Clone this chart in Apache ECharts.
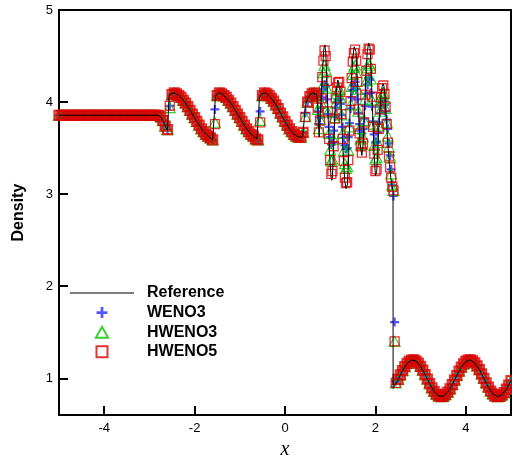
<!DOCTYPE html>
<html>
<head>
<meta charset="utf-8">
<script src="https://cdn.jsdelivr.net/npm/echarts@6/dist/echarts.min.js"></script>
<style>
  html, body { margin: 0; padding: 0; background: #fff; }
  #chart { width: 512px; height: 465px; }
</style>
</head>
<body>
<div id="chart"></div>
<script>
// Shu-Osher shock / entropy-wave interaction, density at t = 1.8

const xTicks = [-4, -2, 0, 2, 4];
const yTicks = [1, 2, 3, 4, 5];

// reference solution (fine mesh)
const refX = [-5.00, -2.80, -2.75, -2.70, -2.65, -2.60, -2.58, -2.565, -2.53, -2.45, -2.40, -2.30, -2.20, -2.10, -2.00, -1.90, -1.80, -1.70, -1.60, -1.56,
  -1.54, -1.50, -1.45, -1.40, -1.30, -1.20, -1.10, -1.00, -0.90, -0.80, -0.70, -0.62, -0.58, -0.565, -0.52, -0.45, -0.40, -0.30, -0.20, -0.10,
  0.00, 0.10, 0.20, 0.30, 0.38, 0.40, 0.43, 0.46, 0.50, 0.55, 0.62, 0.70,
  0.72, 0.74, 0.755, 0.77, 0.80, 0.83, 0.86, 0.88, 0.90, 0.93, 0.96, 0.99, 1.02, 1.035, 1.05, 1.08, 1.11, 1.14, 1.17, 1.20, 1.23, 1.26, 1.29, 1.32,
  1.35, 1.365, 1.38, 1.41, 1.44, 1.47, 1.50, 1.53, 1.55, 1.57, 1.60, 1.63, 1.66, 1.70, 1.73, 1.76, 1.79, 1.82, 1.85, 1.865, 1.88, 1.91, 1.94, 1.97,
  2.00, 2.01, 2.03, 2.06, 2.09, 2.12, 2.15, 2.17, 2.19, 2.22, 2.25, 2.28, 2.31, 2.34, 2.37, 2.39, 2.392,
  2.40, 2.50, 2.60, 2.70, 2.80, 2.90, 3.00, 3.10, 3.20, 3.30, 3.40, 3.50, 3.60, 3.70, 3.80, 3.90, 4.00, 4.10, 4.20, 4.30, 4.40, 4.50, 4.60, 4.70, 4.80, 4.90, 5.00];
const refRho = [3.857, 3.857, 3.84, 3.80, 3.74, 3.69, 3.68, 4.06, 4.09, 4.10, 4.09, 4.05, 3.99, 3.91, 3.83, 3.75, 3.68, 3.63, 3.59, 3.58,
  4.06, 4.09, 4.10, 4.09, 4.05, 3.99, 3.91, 3.83, 3.75, 3.68, 3.63, 3.60, 3.59, 4.05, 4.09, 4.10, 4.09, 4.04, 3.97, 3.88,
  3.79, 3.71, 3.65, 3.62, 3.62, 3.66, 3.85, 3.98, 4.04, 4.08, 4.10, 4.08,
  4.02, 3.75, 3.62, 3.75, 4.05, 4.35, 4.58, 4.62, 4.55, 4.20, 3.75, 3.40, 3.18, 3.15, 3.20, 3.55, 3.95, 4.15, 4.24, 4.25, 4.10, 3.75, 3.40, 3.15,
  3.06, 3.05, 3.10, 3.45, 3.90, 4.25, 4.48, 4.60, 4.62, 4.55, 4.25, 3.85, 3.55, 3.42, 3.55, 3.90, 4.30, 4.55, 4.64, 4.65, 4.60, 4.30, 3.85, 3.45,
  3.20, 3.18, 3.25, 3.55, 3.85, 4.05, 4.17, 4.20, 4.17, 4.00, 3.75, 3.50, 3.32, 3.18, 3.08, 3.03, 0.89,
  0.893, 0.987, 1.084, 1.161, 1.198, 1.187, 1.130, 1.039, 0.942, 0.858, 0.808, 0.804, 0.850, 0.930, 1.030, 1.121, 1.183, 1.199, 1.167, 1.094, 0.998, 0.903, 0.831, 0.801, 0.819, 0.882, 0.974];

// cells of the uniform left state
const leftX = [-5.00, -4.95, -4.90, -4.85, -4.80, -4.75, -4.70, -4.65, -4.60, -4.55,
  -4.50, -4.45, -4.40, -4.35, -4.30, -4.25, -4.20, -4.15, -4.10, -4.05,
  -4.00, -3.95, -3.90, -3.85, -3.80, -3.75, -3.70, -3.65, -3.60, -3.55,
  -3.50, -3.45, -3.40, -3.35, -3.30, -3.25, -3.20, -3.15, -3.10, -3.05,
  -3.00, -2.95, -2.90, -2.85, -2.80];
const leftRho = [3.857, 3.857, 3.857, 3.857, 3.857, 3.857, 3.857, 3.857, 3.857, 3.857,
  3.857, 3.857, 3.857, 3.857, 3.857, 3.857, 3.857, 3.857, 3.857, 3.857,
  3.857, 3.857, 3.857, 3.857, 3.857, 3.857, 3.857, 3.857, 3.857, 3.857,
  3.857, 3.857, 3.857, 3.857, 3.857, 3.857, 3.857, 3.857, 3.857, 3.857,
  3.857, 3.857, 3.857, 3.857, 3.857];

// smooth post-shock waves, shared by the three schemes
const waveX = [-2.75, -2.70, -2.65, -2.60,
  -2.50, -2.45, -2.40, -2.35, -2.30, -2.25, -2.20, -2.15, -2.10, -2.05, -2.00, -1.95, -1.90, -1.85, -1.80, -1.75, -1.70, -1.65, -1.60,
  -1.50, -1.45, -1.40, -1.35, -1.30, -1.25, -1.20, -1.15, -1.10, -1.05, -1.00, -0.95, -0.90, -0.85, -0.80, -0.75, -0.70, -0.65, -0.60,
  -0.50, -0.45, -0.40, -0.35, -0.30, -0.25, -0.20, -0.15, -0.10, -0.05, 0.00, 0.05, 0.10, 0.15, 0.20, 0.25, 0.30, 0.35, 0.40,
  0.50, 0.55, 0.60, 0.65, 0.70];
const waveRho = [3.84, 3.80, 3.74, 3.70,
  4.08, 4.10, 4.09, 4.07, 4.05, 4.02, 3.99, 3.95, 3.91, 3.87, 3.83, 3.79, 3.75, 3.71, 3.68, 3.65, 3.63, 3.61, 3.59,
  4.07, 4.10, 4.09, 4.07, 4.05, 4.02, 3.99, 3.95, 3.91, 3.87, 3.83, 3.79, 3.75, 3.71, 3.68, 3.65, 3.63, 3.60, 3.59,
  4.07, 4.10, 4.09, 4.07, 4.04, 4.01, 3.97, 3.93, 3.88, 3.84, 3.79, 3.75, 3.71, 3.68, 3.65, 3.63, 3.62, 3.62, 3.67,
  4.00, 4.06, 4.09, 4.10, 4.07];

// cells sitting inside the weak shocklets
const stepX = [-2.55, -1.55, -0.55, 0.45];
const weno3Step = [3.96, 3.92, 3.90, 3.88];
const hweno3Step = [3.94, 3.78, 3.80, 3.84];
const hweno5Step = [3.96, 3.76, 3.78, 3.84];

// high-frequency region and main shock
const oscX = [0.725, 0.75, 0.775, 0.80, 0.825, 0.85, 0.875, 0.90, 0.925, 0.95,
  0.975, 1.00, 1.025, 1.05, 1.075, 1.10, 1.125, 1.15, 1.175, 1.20,
  1.225, 1.25, 1.275, 1.30, 1.325, 1.35, 1.375, 1.40, 1.425, 1.45,
  1.475, 1.50, 1.525, 1.55, 1.575, 1.60, 1.625, 1.65, 1.675, 1.70,
  1.725, 1.75, 1.775, 1.80, 1.825, 1.85, 1.875, 1.90, 1.925, 1.95,
  1.975, 2.00, 2.025, 2.05, 2.075, 2.10, 2.125, 2.15, 2.175, 2.20,
  2.225, 2.25, 2.275, 2.30, 2.325, 2.35, 2.375, 2.40, 2.425, 2.45];
const weno3Osc = [3.90, 3.76, 3.83, 3.94, 4.05, 4.14, 4.19, 4.17, 4.03, 3.87,
  3.73, 3.62, 3.54, 3.56, 3.69, 3.84, 3.94, 4.00, 4.03, 4.03,
  3.98, 3.86, 3.73, 3.61, 3.53, 3.49, 3.50, 3.62, 3.77, 3.93,
  4.05, 4.13, 4.18, 4.22, 4.14, 4.03, 3.88, 3.76, 3.69, 3.66,
  3.71, 3.82, 3.96, 4.09, 4.19, 4.26, 4.24, 4.10, 3.95, 3.79,
  3.65, 3.56, 3.57, 3.67, 3.78, 3.88, 3.95, 3.99, 4.01, 3.97,
  3.90, 3.81, 3.71, 3.55, 3.42, 3.27, 3.10, 2.98, 1.61, 0.97];
const hweno3Osc = [3.92, 3.71, 3.81, 3.99, 4.17, 4.32, 4.40, 4.35, 4.15, 3.89,
  3.66, 3.48, 3.36, 3.38, 3.59, 3.83, 3.99, 4.09, 4.13, 4.14,
  4.05, 3.86, 3.66, 3.47, 3.33, 3.28, 3.30, 3.48, 3.73, 3.97,
  4.17, 4.30, 4.38, 4.40, 4.32, 4.14, 3.90, 3.71, 3.60, 3.54,
  3.62, 3.80, 4.03, 4.23, 4.37, 4.42, 4.40, 4.25, 4.02, 3.76,
  3.53, 3.38, 3.40, 3.56, 3.74, 3.90, 4.01, 4.08, 4.10, 4.04,
  3.93, 3.78, 3.63, 3.51, 3.40, 3.22, 3.10, 3.04, 1.40, 0.95];
const hweno5Osc = [3.94, 3.67, 3.80, 4.04, 4.27, 4.45, 4.56, 4.50, 4.23, 3.90,
  3.60, 3.37, 3.22, 3.25, 3.52, 3.82, 4.04, 4.16, 4.21, 4.22,
  4.11, 3.87, 3.60, 3.36, 3.18, 3.12, 3.13, 3.37, 3.69, 4.01,
  4.26, 4.44, 4.53, 4.57, 4.45, 4.22, 3.92, 3.66, 3.52, 3.45,
  3.55, 3.78, 4.08, 4.34, 4.52, 4.58, 4.57, 4.36, 4.06, 3.73,
  3.44, 3.25, 3.27, 3.48, 3.71, 3.92, 4.05, 4.15, 4.18, 4.09,
  3.95, 3.76, 3.56, 3.41, 3.29, 3.18, 3.08, 3.04, 1.40, 0.95];

// undisturbed pre-shock entropy wave
const rightX = [2.50, 2.55, 2.60, 2.65, 2.70, 2.75, 2.80, 2.85, 2.90, 2.95,
  3.00, 3.05, 3.10, 3.15, 3.20, 3.25, 3.30, 3.35, 3.40, 3.45,
  3.50, 3.55, 3.60, 3.65, 3.70, 3.75, 3.80, 3.85, 3.90, 3.95,
  4.00, 4.05, 4.10, 4.15, 4.20, 4.25, 4.30, 4.35, 4.40, 4.45,
  4.50, 4.55, 4.60, 4.65, 4.70, 4.75, 4.80, 4.85, 4.90, 4.95, 5.00];
const rightRho = [0.987, 1.037, 1.084, 1.126, 1.161, 1.185, 1.198, 1.199, 1.187, 1.164,
  1.130, 1.089, 1.039, 0.992, 0.942, 0.897, 0.858, 0.827, 0.808, 0.800,
  0.804, 0.822, 0.850, 0.885, 0.930, 0.980, 1.030, 1.078, 1.121, 1.157,
  1.183, 1.197, 1.199, 1.189, 1.167, 1.135, 1.094, 1.048, 0.998, 0.949,
  0.903, 0.862, 0.831, 0.809, 0.801, 0.804, 0.819, 0.845, 0.882, 0.926, 0.974];

function pairs(xs, ys, style) {
  return xs.map(function (x, i) {
    return style ? { value: [x, ys[i]], itemStyle: style } : [x, ys[i]];
  });
}
// smooth stretches are drawn with heavier outlines so the packed markers read as a band
function schemeData(stepRho, oscRho, bandStyle) {
  return pairs(leftX, leftRho, bandStyle)
    .concat(pairs(waveX, waveRho, bandStyle))
    .concat(pairs(rightX, rightRho, bandStyle))
    .concat(pairs(stepX, stepRho))
    .concat(pairs(oscX, oscRho));
}

const sans = 'Liberation Sans, Arial, sans-serif';
const plusPath = 'path://M3,0H5V3H8V5H5V8H3V5H0V3H3Z';
const trianglePath = 'path://M5,0L10,9H0Z';
const squarePath = 'path://M0,0H10V10H0Z';

const chart = echarts.init(document.getElementById('chart'), null, { renderer: 'canvas' });
chart.setOption({
  animation: false,
  backgroundColor: '#ffffff',
  grid: {
    left: 59, right: 1, top: 10, bottom: 41.5,
    show: true, borderColor: '#000', borderWidth: 2, backgroundColor: 'transparent'
  },
  legend: {
    orient: 'vertical',
    left: 70, top: 285, padding: 0,
    itemWidth: 64, itemHeight: 11, itemGap: 3.6,
    textStyle: { fontFamily: sans, fontWeight: 'bold', fontSize: 16, color: '#000', padding: [0, 0, 0, 8] },
    data: [
      { name: 'Reference', icon: 'path://M0,0H64V1.3H0Z', itemStyle: { color: '#555' } },
      'WENO3', 'HWENO3', 'HWENO5'
    ]
  },
  xAxis: {
    type: 'value', min: -5, max: 5,
    name: 'x', nameLocation: 'middle', nameGap: 24,
    nameTextStyle: { fontFamily: 'Liberation Serif, Times New Roman, serif', fontStyle: 'italic', fontSize: 20, color: '#000' },
    axisLine: { onZero: false, lineStyle: { color: '#000', width: 2 } },
    axisTick: { inside: true, length: 9, lineStyle: { color: '#000', width: 2 }, customValues: xTicks },
    axisLabel: { fontFamily: sans, fontSize: 13, color: '#000', margin: 7, customValues: xTicks },
    splitLine: { show: false }
  },
  yAxis: {
    type: 'value', min: 0.6, max: 5,
    name: 'Density', nameLocation: 'middle', nameGap: 32,
    nameTextStyle: { fontFamily: sans, fontWeight: 'bold', fontSize: 16, color: '#000' },
    axisLine: { onZero: false, lineStyle: { color: '#000', width: 2 } },
    axisTick: { inside: true, length: 9, lineStyle: { color: '#000', width: 2 }, customValues: yTicks },
    axisLabel: { fontFamily: sans, fontSize: 13, color: '#000', margin: 6, customValues: yTicks },
    splitLine: { show: false }
  },
  series: [
    {
      name: 'Reference', type: 'line', data: pairs(refX, refRho),
      symbol: 'none', smooth: false,
      lineStyle: { color: '#000', width: 1 }, itemStyle: { color: '#000' }
    },
    {
      name: 'WENO3', type: 'scatter', data: schemeData(weno3Step, weno3Osc),
      symbol: plusPath, symbolSize: 9, symbolKeepAspect: true,
      itemStyle: { color: '#2a2aff' }
    },
    {
      name: 'HWENO3', type: 'scatter', data: schemeData(hweno3Step, hweno3Osc, { borderWidth: 1.4 }),
      symbol: trianglePath, symbolSize: [11, 11], symbolKeepAspect: true,
      itemStyle: { color: 'rgba(0,0,0,0)', borderColor: '#00c800', borderWidth: 1.2 }
    },
    {
      name: 'HWENO5', type: 'scatter', data: schemeData(hweno5Step, hweno5Osc, { borderWidth: 2.2 }),
      symbol: squarePath, symbolSize: 9, symbolKeepAspect: true,
      itemStyle: { color: 'rgba(0,0,0,0)', borderColor: '#dd0000', borderWidth: 1.3 }
    }
  ]
});
</script>
</body>
</html>
